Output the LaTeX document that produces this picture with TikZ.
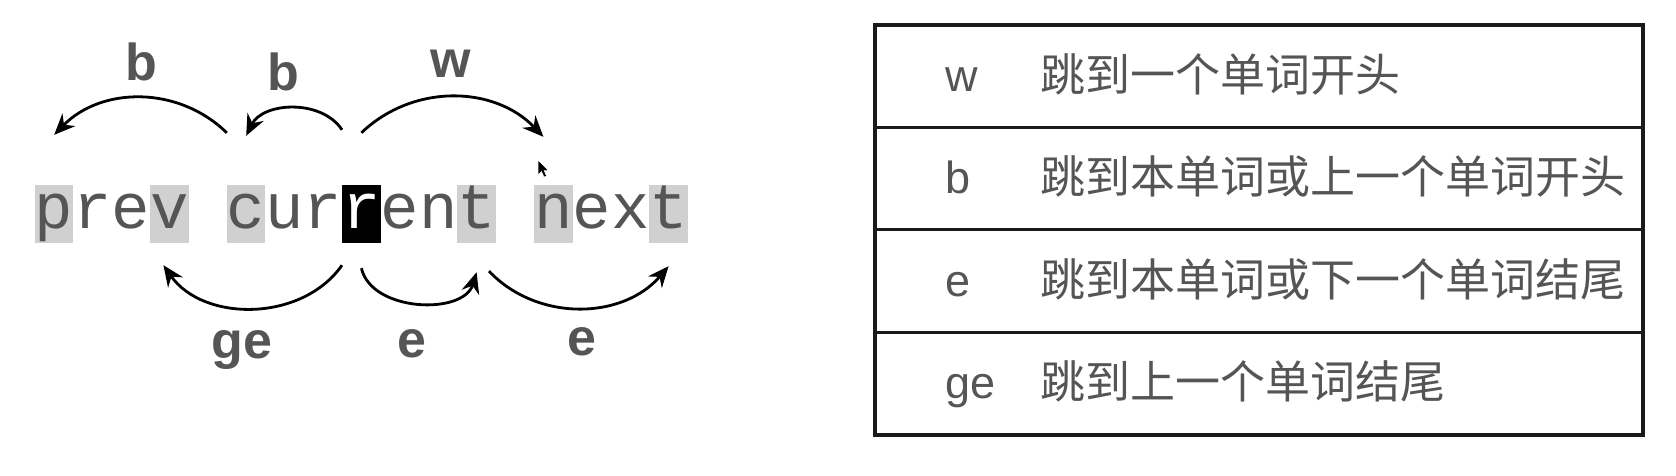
\documentclass[tikz,border=0pt]{standalone}
\usepackage{fontspec}
\setmainfont{Liberation Sans}
\setmonofont{Liberation Mono}
\newfontfamily\cjk{Noto Sans CJK SC}
\usetikzlibrary{arrows.meta}
\definecolor{inkgray}{HTML}{555555}
\definecolor{hlgray}{HTML}{D0D0D0}
\definecolor{rule}{HTML}{1A1A1A}
\tikzset{
  cell/.style={inner sep=0pt, minimum width=38.4pt, text height=43pt, text depth=15pt, font=\fontsize{64}{64}\selectfont\ttfamily, text=inkgray},
  hl/.style={fill=hlgray},
  pl/.style={},
  cur/.style={fill=black, text=white},
  jump/.style={-{Stealth[length=21pt,width=18pt,inset=7pt]}, line width=2.8pt},
  motion/.style={anchor=base, inner sep=0pt, font=\fontsize{52}{52}\selectfont\bfseries, text=inkgray},
  key/.style={anchor=base west, inner sep=0pt, font=\fontsize{45}{45}\selectfont, text=inkgray},
  desc/.style={anchor=base west, inner sep=0pt, font=\fontsize{45}{45}\selectfont\cjk, text=inkgray},
}
\begin{document}
\begin{tikzpicture}[x=1pt, y=-1pt]
  \useasboundingbox (0,0) rectangle (1676,475);
  % the text line, one cell per character
  \foreach \ch/\st [count=\i from 0] in {p/hl,r/pl,e/pl,v/hl,/pl,c/hl,u/pl,r/pl,r/cur,e/pl,n/pl,t/hl,/pl,n/hl,e/pl,x/pl,t/hl}
    \node[cell, \st] (c\i) at (54.2+38.4*\i, 214) {\ch};
  % motions above
  \draw[jump] ([yshift=52pt]c5.north west) to[bend right=45] ([yshift=50pt]c0.north);
  \draw[jump] ([yshift=55pt]c8.north west) to[bend right=60] ([yshift=49pt]c5.north);
  \draw[jump] ([yshift=52pt]c8.north) to[bend left=45] ([xshift=-10pt,yshift=48pt]c13.north);
  \node[motion] (lb1) at (141,80) {b};
  \node[motion] (lb2) at (283,90) {b};
  \node[motion] (lw) at (451,77) {w};
  % motions below
  \draw[jump] ([yshift=-22pt]c8.south west) to[bend left=55] ([xshift=-6pt,yshift=-22pt]c3.south);
  \draw[jump] ([yshift=-25pt]c8.south) to[bend right=75] ([yshift=-29pt]c11.south);
  \draw[jump] ([xshift=-7pt,yshift=-28pt]c11.south east) to[bend right=48] ([yshift=-23pt]c16.south);
  \node[motion] (lge) at (242,358) {ge};
  \node[motion] (le1) at (412,357) {e};
  \node[motion] (le2) at (582,355) {e};
  % mouse pointer
  \fill[draw=white, line width=0.5pt] (538,160) -- (538,175) -- (541.5,171.5) -- (544,177) -- (546.5,176) -- (544,170.5) -- (548.5,170.5) -- cycle;
  % table
  \draw[rule, line width=4pt] (875,25) rectangle (1643,435);
  \foreach \y in {127,229,332}
    \draw[rule, line width=3pt] (875,\y) -- (1643,\y);
  \node[key] (kw) at (945,91) {w};
  \node[desc] (dw) at (1040,91) {跳到一个单词开头};
  \node[key] (kb) at (945,193) {b};
  \node[desc] (db) at (1040,193) {跳到本单词或上一个单词开头};
  \node[key] (ke) at (945,296) {e};
  \node[desc] (de) at (1040,296) {跳到本单词或下一个单词结尾};
  \node[key] (kge) at (945,398) {ge};
  \node[desc] (dge) at (1040,398) {跳到上一个单词结尾};
\end{tikzpicture}
\end{document}
